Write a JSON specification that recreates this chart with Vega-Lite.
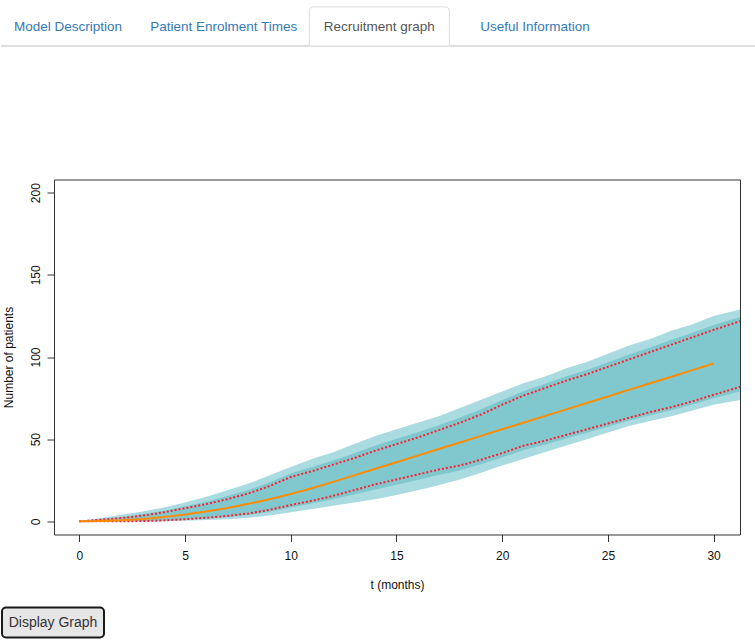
{
  "$schema": "https://vega.github.io/schema/vega-lite/v6.json",
  "padding": 0,
  "background": "white",
  "config": {"view": {"stroke": null}, "font": "Liberation Sans"},
  "datasets": {
    "tabs": [
      {"tab": "Model Description", "state": "inactive"},
      {"tab": "Patient Enrolment Times", "state": "inactive"},
      {"tab": "Recruitment graph", "state": "active"},
      {"tab": "Useful Information", "state": "inactive"}
    ],
    "band": [
      {"t": 0, "hi": 0, "lo": 0, "hiIn": 0, "loIn": 0, "U": 0, "L": 0},
      {"t": 1, "hi": 2, "lo": 0, "hiIn": 1.3, "loIn": 0, "U": 1, "L": 0},
      {"t": 2, "hi": 4, "lo": 0, "hiIn": 2.7, "loIn": 0, "U": 2, "L": 0},
      {"t": 3, "hi": 6, "lo": 0, "hiIn": 4.4, "loIn": 0.1, "U": 3.5, "L": 0.2},
      {"t": 4, "hi": 8.5, "lo": 0, "hiIn": 6.5, "loIn": 0.4, "U": 5.5, "L": 0.6},
      {"t": 5, "hi": 11.5, "lo": 0.3, "hiIn": 9.2, "loIn": 1, "U": 8, "L": 1.3},
      {"t": 6, "hi": 15, "lo": 0.8, "hiIn": 12, "loIn": 1.7, "U": 10.5, "L": 2.2},
      {"t": 7, "hi": 19, "lo": 1.3, "hiIn": 15.4, "loIn": 2.6, "U": 13.5, "L": 3.3},
      {"t": 8, "hi": 23, "lo": 2.2, "hiIn": 19.1, "loIn": 3.9, "U": 17, "L": 4.8},
      {"t": 9, "hi": 28, "lo": 3.5, "hiIn": 23.8, "loIn": 5.8, "U": 21.5, "L": 7},
      {"t": 10, "hi": 33, "lo": 5.5, "hiIn": 29.1, "loIn": 8.4, "U": 27, "L": 10},
      {"t": 11, "hi": 38, "lo": 7.5, "hiIn": 33.1, "loIn": 10.8, "U": 30.5, "L": 12.5},
      {"t": 12, "hi": 42, "lo": 9.5, "hiIn": 37.1, "loIn": 13.4, "U": 34.5, "L": 15.5},
      {"t": 13, "hi": 47, "lo": 11.5, "hiIn": 41.5, "loIn": 16.4, "U": 38.5, "L": 19},
      {"t": 14, "hi": 52, "lo": 13.5, "hiIn": 46.2, "loIn": 19.4, "U": 43, "L": 22.5},
      {"t": 15, "hi": 56, "lo": 16, "hiIn": 50.2, "loIn": 22.2, "U": 47, "L": 25.5},
      {"t": 16, "hi": 60, "lo": 19, "hiIn": 54.2, "loIn": 25.2, "U": 51, "L": 28.5},
      {"t": 17, "hi": 64, "lo": 22, "hiIn": 58.5, "loIn": 28.2, "U": 55.5, "L": 31.5},
      {"t": 18, "hi": 69, "lo": 25.5, "hiIn": 63.2, "loIn": 31, "U": 60, "L": 34},
      {"t": 19, "hi": 74, "lo": 29.5, "hiIn": 68.2, "loIn": 34.7, "U": 65, "L": 37.5},
      {"t": 20, "hi": 79, "lo": 34, "hiIn": 73.8, "loIn": 38.9, "U": 71, "L": 41.5},
      {"t": 21, "hi": 84, "lo": 38, "hiIn": 79.1, "loIn": 43.2, "U": 76.5, "L": 46},
      {"t": 22, "hi": 88, "lo": 42, "hiIn": 83.5, "loIn": 46.6, "U": 81, "L": 49},
      {"t": 23, "hi": 93, "lo": 46, "hiIn": 88.1, "loIn": 50.2, "U": 85.5, "L": 52.5},
      {"t": 24, "hi": 97, "lo": 50, "hiIn": 92.1, "loIn": 53.9, "U": 89.5, "L": 56},
      {"t": 25, "hi": 102, "lo": 54, "hiIn": 96.8, "loIn": 57.6, "U": 94, "L": 59.5},
      {"t": 26, "hi": 107, "lo": 58, "hiIn": 101.5, "loIn": 61.3, "U": 98.5, "L": 63},
      {"t": 27, "hi": 111, "lo": 61, "hiIn": 105.8, "loIn": 64.6, "U": 103, "L": 66.5},
      {"t": 28, "hi": 116, "lo": 64, "hiIn": 110.5, "loIn": 67.6, "U": 107.5, "L": 69.5},
      {"t": 29, "hi": 120, "lo": 67.5, "hiIn": 114.8, "loIn": 71.1, "U": 112, "L": 73},
      {"t": 30, "hi": 125, "lo": 71, "hiIn": 119.5, "loIn": 74.9, "U": 116.5, "L": 77},
      {"t": 31.3, "hi": 129, "lo": 74, "hiIn": 124.5, "loIn": 79.2, "U": 122, "L": 82}
    ],
    "mean": [
      {"t": 0, "m": 0}, {"t": 1, "m": 0.17}, {"t": 2, "m": 0.67}, {"t": 3, "m": 1.5},
      {"t": 4, "m": 2.67}, {"t": 5, "m": 4.17}, {"t": 6, "m": 6}, {"t": 7, "m": 8.17},
      {"t": 8, "m": 10.67}, {"t": 9, "m": 13.5}, {"t": 10, "m": 16.67}, {"t": 11, "m": 20.17},
      {"t": 12, "m": 24}, {"t": 13, "m": 28}, {"t": 14, "m": 32}, {"t": 15, "m": 36},
      {"t": 16, "m": 40}, {"t": 17, "m": 44}, {"t": 18, "m": 48}, {"t": 19, "m": 52},
      {"t": 20, "m": 56}, {"t": 21, "m": 60}, {"t": 22, "m": 64}, {"t": 23, "m": 68},
      {"t": 24, "m": 72}, {"t": 25, "m": 76}, {"t": 26, "m": 80}, {"t": 27, "m": 84},
      {"t": 28, "m": 88}, {"t": 29, "m": 92}, {"t": 30, "m": 96}
    ]
  },
  "spacing": 131.5,
  "vconcat": [
    {
      "width": 700,
      "height": 46,
      "data": {"name": "tabs"},
      "resolve": {"scale": {"x": "independent"}},
      "layer": [
        {
          "mark": {"type": "rule", "color": "#dddddd", "strokeWidth": 1},
          "encoding": {
            "x": {"datum": 0, "type": "quantitative", "scale": {"domain": [0, 1], "range": [-53, 702]}, "axis": null},
            "x2": {"datum": 1},
            "y": {"datum": 0, "type": "quantitative", "scale": {"domain": [0, 1]}, "axis": null}
          }
        },
        {
          "layer": [
            {
              "transform": [{"filter": "datum.state === 'active'"}],
              "mark": {"type": "bar", "width": 140, "fill": "white", "stroke": "#dddddd", "strokeWidth": 1, "cornerRadiusTopLeft": 4, "cornerRadiusTopRight": 4},
              "encoding": {
                "x": {"field": "tab", "type": "nominal", "sort": null, "scale": {"type": "point", "padding": 0, "range": [14, 481], "domain": ["Model Description", "Patient Enrolment Times", "Recruitment graph", "Useful Information"]}, "axis": null},
                "y": {"datum": 0, "type": "quantitative"},
                "y2": {"datum": 0.85}
              }
            },
            {
              "mark": {"type": "text", "fontSize": 13.5, "font": "Liberation Sans", "baseline": "middle", "align": "center"},
              "encoding": {
                "x": {"field": "tab", "type": "nominal", "sort": null},
                "y": {"datum": 0.41, "type": "quantitative"},
                "text": {"field": "tab"},
                "color": {"field": "state", "type": "nominal", "scale": {"domain": ["active", "inactive"], "range": ["#555555", "#337ab7"]}, "legend": null}
              }
            }
          ]
        }
      ]
    },
    {
      "spacing": 15,
      "vconcat": [
        {
          "width": 686,
          "height": 355,
          "view": {"stroke": "#333333", "strokeWidth": 1},
          "encoding": {
            "x": {
              "field": "t", "type": "quantitative",
              "scale": {"domain": [-1.2, 31.25], "nice": false, "zero": false},
              "axis": {
                "values": [0, 5, 10, 15, 20, 25, 30], "title": "t (months)", "grid": false, "domain": false,
                "tickSize": 7, "tickColor": "#333333", "labelColor": "#111111", "labelFontSize": 12,
                "labelFont": "Liberation Sans", "labelPadding": 9, "labelFlush": false,
                "titleFont": "Liberation Sans", "titleFontSize": 12, "titleFontWeight": "normal",
                "titleColor": "#111111", "titlePadding": 18
              }
            }
          },
          "layer": [
            {
              "data": {"name": "band"},
              "mark": {"type": "area", "color": "#aadbe0", "clip": true},
              "encoding": {
                "y": {
                  "field": "hi", "type": "quantitative",
                  "scale": {"domain": [-8, 208], "nice": false, "zero": false},
                  "axis": {
                    "values": [0, 50, 100, 150, 200], "title": "Number of patients", "grid": false, "domain": false,
                    "tickSize": 7, "tickColor": "#333333", "labelColor": "#111111", "labelFontSize": 12,
                    "labelFont": "Liberation Sans", "labelAngle": -90, "labelAlign": "center", "labelBaseline": "alphabetic",
                    "labelPadding": 8,
                    "titleFont": "Liberation Sans", "titleFontSize": 12, "titleFontWeight": "normal",
                    "titleColor": "#111111", "titlePadding": 14
                  }
                },
                "y2": {"field": "lo"}
              }
            },
            {
              "data": {"name": "band"},
              "mark": {"type": "area", "color": "#80c8ce", "clip": true},
              "encoding": {
                "y": {"field": "hiIn", "type": "quantitative"},
                "y2": {"field": "loIn"}
              }
            },
            {
              "data": {"name": "band"},
              "mark": {"type": "line", "color": "#ff1f2e", "strokeWidth": 2, "strokeDash": [2, 2], "clip": true},
              "encoding": {"y": {"field": "U", "type": "quantitative"}}
            },
            {
              "data": {"name": "band"},
              "mark": {"type": "line", "color": "#ff1f2e", "strokeWidth": 2, "strokeDash": [2, 2], "clip": true},
              "encoding": {"y": {"field": "L", "type": "quantitative"}}
            },
            {
              "data": {"name": "mean"},
              "mark": {"type": "line", "color": "#ff8c00", "strokeWidth": 2, "clip": true},
              "encoding": {"y": {"field": "m", "type": "quantitative"}}
            }
          ]
        },
        {
          "width": 50,
          "height": 30,
          "data": {"values": [{"label": "Display Graph"}]},
          "layer": [
            {
              "mark": {"type": "bar", "fill": "#e6e6e6", "stroke": "#1a1a1a", "strokeWidth": 2, "cornerRadius": 4},
              "encoding": {
                "x": {"datum": 0, "type": "quantitative", "scale": {"domain": [0, 1], "range": [-52, 50]}, "axis": null},
                "x2": {"datum": 1},
                "y": {"datum": 0, "type": "quantitative", "scale": {"domain": [0, 1]}, "axis": null},
                "y2": {"datum": 1}
              }
            },
            {
              "mark": {"type": "text", "font": "Liberation Sans", "fontSize": 14, "color": "#333333", "baseline": "middle", "align": "center"},
              "encoding": {
                "x": {"datum": 0.5, "type": "quantitative"},
                "y": {"datum": 0.5, "type": "quantitative"},
                "text": {"field": "label"}
              }
            }
          ]
        }
      ]
    }
  ]
}
